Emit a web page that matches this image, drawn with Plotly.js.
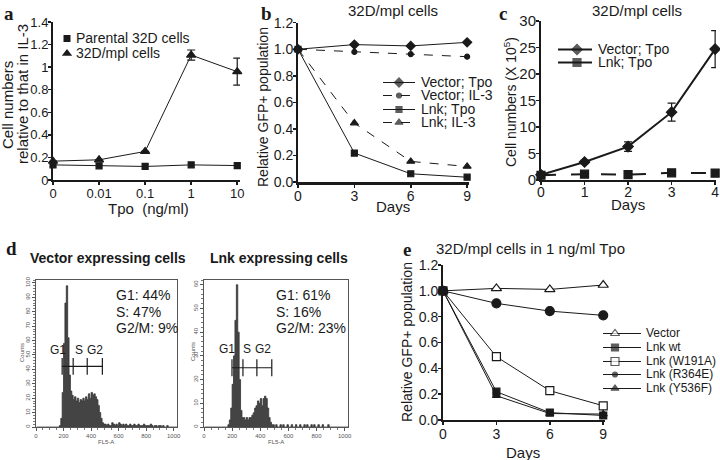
<!DOCTYPE html>
<html><head><meta charset="utf-8">
<script src="https://cdn.plot.ly/plotly-3.0.1.min.js"></script>
<style>html,body{margin:0;padding:0;background:#fff}#chart{width:720px;height:460px}</style>
</head><body><div id="chart"></div>
<script>
// ---------- data ----------
// panel a
const tpoLabels = ['0', '0.01', '0.1', '1', '10'];
const parental32D = [0.134, 0.125, 0.12, 0.134, 0.128];
const mpl32D = [0.167, 0.179, 0.253, 1.107, 0.96];
const mpl32DErr = [0, 0, 0, 0.045, 0.12];
const legendA = ['Parental 32D cells', '32D/mpl cells'];
// panel b
const daysB = [0, 3, 6, 9];
const vecTpoB = [1.0, 1.035, 1.025, 1.052];
const vecIL3B = [1.0, 0.98, 0.963, 0.944];
const lnkTpoB = [1.0, 0.218, 0.062, 0.036];
const lnkIL3B = [1.0, 0.444, 0.155, 0.117];
const legendB = ['Vector; Tpo', 'Vector; IL-3', 'Lnk; Tpo', 'Lnk; IL-3'];
// panel c
const daysC = [0, 1, 2, 3, 4];
const vecTpoC = [1.0, 3.4, 6.3, 12.8, 24.7];
const vecTpoCErr = [0, 0.3, 0.9, 1.7, 3.5];
const lnkTpoC = [0.9, 1.1, 1.0, 1.35, 1.3];
const legendC = ['Vector; Tpo', 'Lnk; Tpo'];
// panel d (flow cytometry histograms, counts in 10-channel bins from channel 0)
const vectorCounts = [
  0,0,0,0,0,0,0,0,0,0,
  0,0,0,0,0,0,0,1,
  6,24,58,86,98,62,36,25,22,19,21,18,20,17,19,18,20,18,21,19,23,20,24,22,23,21,19,15,10,6,3,2,
  2,1,2,1,1,3,2,1,2,1, 3,2,1,2,1,2,1,1,2,1, 1,2,1,1,2,1,1,1,2,1,
  1,1,1,2,1,0,1,1,0,1, 1,0,1,0,0,1,0,0,0,0, 0,0,0];
const lnkCounts = [
  0,0,0,0,0,0,0,0,0,0,
  0,0,0,0,0,0,0,1,
  3,8,18,30,45,60,40,20,7,4,4,3,4,3,4,4,5,6,8,9,11,10,12,9,12,13,12,8,4,2,1,1,
  0,1,0,0,1,0,1,0,0,1, 0,0,1,0,0,1,0,0,1,0, 0,1,0,1,0,0,1,0,1,0,
  0,1,0,0,1,0,0,0,1,0, 0,0,0,0,0,0,0,0,0,0, 0,0,0];
const vectorGates = [190, 270, 372, 482];
const lnkGates = [199, 277, 376, 482];
const vectorGateLevel = [42, 42, 42, 42];
const lnkGateLevel = [25, 25, 25, 25];
const phaseLabels = ['G1', 'S', 'G2'];
const phaseNames = ['G1', 'S', 'G2/M'];
const vectorPct = [44, 47, 9];
const lnkPct = [61, 16, 23];
const histTicks = [0, 200, 400, 600, 800, 1000];
// panel e
const daysE = [0, 3, 6, 9];
const vectorE = [1.0, 1.019, 1.011, 1.045];
const lnkWtE = [1.0, 0.219, 0.057, 0.035];
const w191aE = [1.0, 0.49, 0.227, 0.11];
const r364eE = [1.0, 0.903, 0.843, 0.81];
const y536fE = [1.0, 0.188, 0.05, 0.046];
const legendE = ['Vector', 'Lnk wt', 'Lnk (W191A)', 'Lnk (R364E)', 'Lnk (Y536F)'];

// ---------- layout helpers ----------
const W = 720, H = 460;
const FONT = 'Liberation Sans, Arial, sans-serif';
const INK = '#1a1a1a';
const dx = (a, b) => [a / W, b / W];
const dy = (bottom, top) => [1 - bottom / H, 1 - top / H];

function axis(domain, range, extra) {
  return Object.assign({
    domain: domain, range: range, showline: true, linecolor: INK, linewidth: 2,
    ticks: 'outside', ticklen: 3, tickwidth: 1.5, tickcolor: INK, ticklabelstandoff: -3,
    showgrid: false, zeroline: false, fixedrange: true,
    tickfont: {family: FONT, size: 13, color: INK}
  }, extra || {});
}
function histAxis(domain, range, extra) {
  return Object.assign({
    domain: domain, range: range, showline: true, mirror: true, linecolor: '#555', linewidth: 1,
    ticks: 'outside', ticklen: 3, tickwidth: 1, tickcolor: '#555',
    showgrid: false, zeroline: false, fixedrange: true,
    tickfont: {family: FONT, size: 6, color: '#555'}
  }, extra || {});
}

const traces = [];
const annotations = [];
function ann(text, x, y, o) {
  annotations.push(Object.assign({text: text, x: x, y: y, xref: 'x9', yref: 'y9',
    showarrow: false, xanchor: 'center', yanchor: 'middle',
    font: {family: FONT, size: 14, color: INK}}, o || {}));
}
function line(x, y, xa, ya, name, sym, size, dash, width, errs, fill) {
  const t = {x: x, y: y, xaxis: xa, yaxis: ya, name: name, type: 'scatter', mode: 'lines+markers',
    line: {color: INK, width: width || 1, dash: dash || 'solid'},
    marker: {symbol: sym, size: size, color: fill || INK, line: {color: INK, width: 1.2}},
    cliponaxis: false, showlegend: false, hoverinfo: 'x+y'};
  if (errs) t.error_y = {type: 'data', array: errs, visible: true, color: INK, thickness: 1.2, width: 4};
  traces.push(t);
}
// legend sample (pixel overlay axis)
function legendRow(xL, xR, xm, y, sym, size, dash, width, text, textX, fontSize, noLine, fill) {
  const yy = y + 0.5;
  traces.push({x: noLine ? [xm] : [xL, xm, xR], y: noLine ? [yy] : [yy, yy, yy], xaxis: 'x9', yaxis: 'y9',
    type: 'scatter', mode: noLine ? 'markers' : 'lines+markers', showlegend: false, hoverinfo: 'skip',
    line: {color: INK, width: width || 1, dash: dash || 'solid'},
    marker: {symbol: sym, size: noLine ? size : [0, size, 0], color: fill || INK,
      line: {color: INK, width: noLine ? 0 : 1.2}}});
  ann(text, textX, y, {xanchor: 'left', font: {family: FONT, size: fontSize, color: INK}});
}

// ---------- panel a ----------
line(tpoLabels, parental32D, 'x', 'y', legendA[0], 'square', 6);
line(tpoLabels, mpl32D, 'x', 'y', legendA[1], 'triangle-up', 8, 'solid', 1, mpl32DErr);
legendRow(0, 0, 67, 38, 'square', 7, null, 1, legendA[0], 74, 14, true);
legendRow(0, 0, 67, 53, 'triangle-up', 9, null, 1, legendA[1], 74, 14, true);

// ---------- panel b ----------
line(daysB, vecTpoB, 'x2', 'y2', legendB[0], 'diamond', 7);
line(daysB, vecIL3B, 'x2', 'y2', legendB[1], 'circle', 5, 'dash');
line(daysB, lnkTpoB, 'x2', 'y2', legendB[2], 'square', 6);
line(daysB, lnkIL3B, 'x2', 'y2', legendB[3], 'triangle-up', 7, 'dash');
const rowsB = [82, 95, 109, 122];
legendRow(383, 415, 399, rowsB[0], 'diamond', 7, 'solid', 1, legendB[0], 419, 14);
legendRow(383, 415, 399, rowsB[1], 'circle', 5, 'dash', 1, legendB[1], 419, 14);
legendRow(383, 415, 399, rowsB[2], 'square', 6, 'solid', 1, legendB[2], 419, 14);
legendRow(383, 415, 399, rowsB[3], 'triangle-up', 7, 'dash', 1, legendB[3], 419, 14);

// ---------- panel c ----------
line(daysC, vecTpoC, 'x3', 'y3', legendC[0], 'diamond', 8, 'solid', 2, vecTpoCErr);
line(daysC, lnkTpoC, 'x3', 'y3', legendC[1], 'square', 8, 'longdash', 2);
legendRow(558, 592, 577, 49, 'diamond', 8, 'solid', 2, legendC[0], 596, 14);
legendRow(558, 592, 577, 62, 'square', 8, 'solid', 2, legendC[1], 596, 14);

// ---------- panel d ----------
function hist(counts, xa, ya) {
  traces.push({y: counts, x0: 5, dx: 10, xaxis: xa, yaxis: ya, type: 'scatter', mode: 'lines',
    line: {color: '#333', width: 0.8, shape: 'hvh'}, fill: 'tozeroy', fillcolor: '#444',
    showlegend: false, hoverinfo: 'x+y'});
}
hist(vectorCounts, 'x5', 'y5');
hist(lnkCounts, 'x6', 'y6');
function gates(g, lvl, xa, ya) {
  traces.push({x: g, y: lvl, xaxis: xa, yaxis: ya, type: 'scatter', mode: 'lines+markers',
    line: {color: INK, width: 1.2}, marker: {symbol: 'line-ns-open', size: 12, color: INK, line: {color: INK, width: 1.2}},
    showlegend: false, hoverinfo: 'skip', cliponaxis: false});
}
gates(vectorGates, vectorGateLevel, 'x5', 'y5');
gates(lnkGates, lnkGateLevel, 'x6', 'y6');

ann('Vector expressing cells', 108, 258, {font: {family: FONT, size: 14, color: INK, weight: 'bold'}});
ann('Lnk expressing cells', 279, 258, {font: {family: FONT, size: 14, color: INK, weight: 'bold'}});
const pctRows = [295, 312, 328];
phaseNames.forEach((p, i) => {
  ann(p + ': ' + vectorPct[i] + '%', 114, pctRows[i], {xanchor: 'left'});
  ann(p + ': ' + lnkPct[i] + '%', 274, pctRows[i], {xanchor: 'left'});
});
const phaseXL = [58, 79, 95], phaseXR = [227, 247, 263];
phaseLabels.forEach((p, i) => {
  ann(p, phaseXL[i], 350, {font: {family: FONT, size: 12, color: INK}});
  ann(p, phaseXR[i], 349, {font: {family: FONT, size: 12, color: INK}});
});
ann('Counts', 22, 353, {textangle: -90, font: {family: FONT, size: 6, color: '#555'}});
ann('Counts', 193, 352, {textangle: -90, font: {family: FONT, size: 6, color: '#555'}});
ann('FL5-A', 106, 442, {font: {family: FONT, size: 6, color: '#555'}});
ann('FL5-A', 276, 442, {font: {family: FONT, size: 6, color: '#555'}});

// ---------- panel e ----------
line(daysE, vectorE, 'x4', 'y4', legendE[0], 'triangle-up', 9, 'solid', 1, null, '#fff');
line(daysE, r364eE, 'x4', 'y4', legendE[3], 'circle', 9);
line(daysE, w191aE, 'x4', 'y4', legendE[2], 'square', 8, 'solid', 1, null, '#fff');
line(daysE, lnkWtE, 'x4', 'y4', legendE[1], 'square', 7);
line(daysE, y536fE, 'x4', 'y4', legendE[4], 'triangle-up', 7);
const rowsE = [333, 347, 361, 374, 388];
legendRow(603, 641, 615, rowsE[0], 'triangle-up', 8, 'solid', 1, legendE[0], 644, 12, false, '#fff');
legendRow(603, 641, 615, rowsE[1], 'square', 7, 'solid', 1, legendE[1], 644, 12);
legendRow(603, 641, 615, rowsE[2], 'square', 8, 'solid', 1, legendE[2], 644, 12, false, '#fff');
legendRow(603, 641, 615, rowsE[3], 'circle', 5, 'solid', 1, legendE[3], 644, 12);
legendRow(603, 641, 615, rowsE[4], 'triangle-up', 7, 'solid', 1, legendE[4], 644, 12);

// ---------- text ----------
const letter = {family: 'Liberation Serif, Times New Roman, serif', size: 19, color: INK, weight: 'bold'};
ann('a', 9, 13, {font: letter});
ann('b', 266, 13, {font: letter});
ann('c', 503, 13, {font: letter});
ann('d', 11, 248, {font: letter});
ann('e', 407, 249, {font: letter});
ann('32D/mpl cells', 393, 10, {font: {family: FONT, size: 15, color: INK}});
ann('32D/mpl cells', 637, 10, {font: {family: FONT, size: 15, color: INK}});
ann('32D/mpl cells in 1 ng/ml Tpo', 530, 248, {font: {family: FONT, size: 15, color: INK}});
ann('Tpo&nbsp; (ng/ml)', 148, 208, {font: {family: FONT, size: 15, color: INK}});
ann('Days', 393, 206, {font: {family: FONT, size: 15, color: INK}});
ann('Days', 628, 204, {font: {family: FONT, size: 15, color: INK}});
ann('Days', 523, 452, {font: {family: FONT, size: 15, color: INK}});
ann('Cell numbers', 7, 105, {textangle: -90, font: {family: FONT, size: 15, color: INK}});
ann('relative to that in IL-3', 22, 94, {textangle: -90, font: {family: FONT, size: 15, color: INK}});
ann('Relative GFP+ population', 263, 107, {textangle: -90, font: {family: FONT, size: 14, color: INK}});
ann('Cell numbers (X 10<sup>5</sup>)', 510, 102, {textangle: -90, font: {family: FONT, size: 14, color: INK}});
ann('Relative GFP+ population', 407, 342, {textangle: -90, font: {family: FONT, size: 14, color: INK}});

const layout = {
  width: W, height: H, margin: {l: 0, r: 0, t: 0, b: 0},
  paper_bgcolor: '#fff', plot_bgcolor: 'rgba(0,0,0,0)', showlegend: false,
  font: {family: FONT, color: INK},
  xaxis: axis(dx(53, 240), [0, 4.06], {type: 'category', anchor: 'y'}),
  yaxis: axis(dy(180, 22), [0, 1.4], {dtick: 0.2, anchor: 'x'}),
  xaxis2: axis(dx(298, 469), [0, 9.1], {tickvals: daysB, anchor: 'y2', linewidth: 2.5, tickfont: {family: FONT, size: 14, color: INK}}),
  yaxis2: axis(dy(182, 22.7), [0, 1.2], {dtick: 0.2, tickformat: '.1f', anchor: 'x2', tickfont: {family: FONT, size: 14, color: INK}}),
  xaxis3: axis(dx(541, 716), [0, 4.02], {tickvals: daysC, anchor: 'y3', ticklabelstandoff: -5, tickfont: {family: FONT, size: 14, color: INK}}),
  yaxis3: axis(dy(180, 21), [0, 30], {dtick: 5, anchor: 'x3', tickfont: {family: FONT, size: 15, color: INK}}),
  xaxis4: axis(dx(443, 605), [0, 9.1], {tickvals: daysE, anchor: 'y4', tickfont: {family: FONT, size: 14, color: INK}}),
  yaxis4: axis(dy(420, 265), [0, 1.2], {dtick: 0.2, tickformat: '.1f', anchor: 'x4', tickfont: {family: FONT, size: 14, color: INK}}),
  xaxis5: histAxis(dx(36, 177), [0, 1024], {tickvals: histTicks, anchor: 'y5', minor: {dtick: 50, ticklen: 2, tickcolor: '#777'}}),
  yaxis5: histAxis(dy(427, 280), [0, 102], {dtick: 10, tickangle: -90, anchor: 'x5', minor: {dtick: 2, ticklen: 2, tickcolor: '#777'}}),
  xaxis6: histAxis(dx(204, 348), [0, 1024], {tickvals: histTicks, anchor: 'y6', minor: {dtick: 50, ticklen: 2, tickcolor: '#777'}}),
  yaxis6: histAxis(dy(427, 280), [0, 62], {dtick: 10, tickangle: -90, anchor: 'x6', minor: {dtick: 2, ticklen: 2, tickcolor: '#777'}}),
  xaxis9: {domain: [0, 1], range: [0, W], visible: false, fixedrange: true, anchor: 'y9'},
  yaxis9: {domain: [0, 1], range: [H, 0], visible: false, fixedrange: true, anchor: 'x9'},
  annotations: annotations
};
Plotly.newPlot('chart', traces, layout, {displayModeBar: false, staticPlot: true});
</script></body></html>
